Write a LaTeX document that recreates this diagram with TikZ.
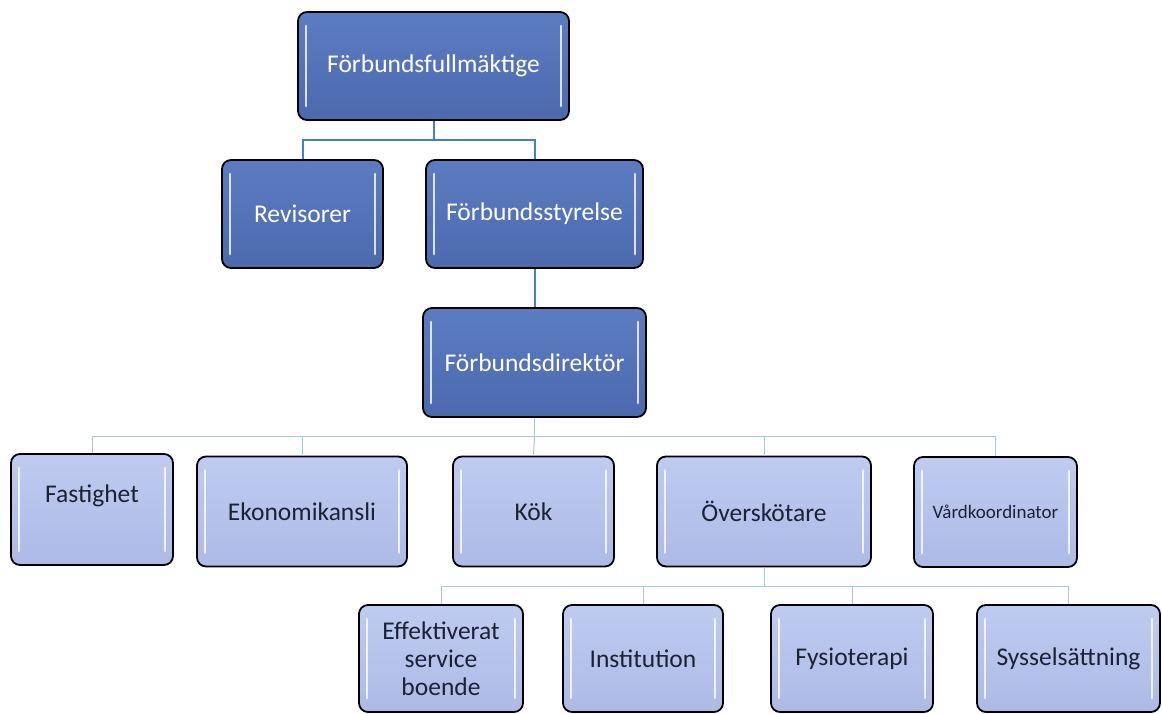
\documentclass[tikz,border=0pt]{standalone}
\usepackage{fontspec}
\setmainfont{Carlito}
\definecolor{darkbox}{HTML}{5372BA}
\definecolor{darkboxtop}{HTML}{5C7CC2}
\definecolor{darkboxbot}{HTML}{4C69AE}
\definecolor{lightbox}{HTML}{B4C1EA}
\definecolor{lightboxtop}{HTML}{BFCBF0}
\definecolor{lightboxbot}{HTML}{ADBAE6}
\definecolor{topline}{HTML}{3F7FD6}
\definecolor{lowline}{HTML}{A9C5EA}
\definecolor{textdark}{HTML}{1C2236}
\tikzset{
  basebox/.style={draw=black, line width=1.8pt, rounded corners=9pt, inner sep=2pt, align=center,
    path picture={
      \draw[white, opacity=0.8, line width=2.8pt, line cap=round]
        ([xshift=8pt,yshift=-14pt]path picture bounding box.north west) --
        ([xshift=8pt,yshift=14pt]path picture bounding box.south west);
      \draw[white, opacity=0.8, line width=2.8pt, line cap=round]
        ([xshift=-8pt,yshift=-14pt]path picture bounding box.north east) --
        ([xshift=-8pt,yshift=14pt]path picture bounding box.south east);
    }},
  darkbox/.style={basebox, top color=darkboxtop, bottom color=darkboxbot, text=white,
    font=\fontsize{25.5}{28}\selectfont, minimum height=108pt},
  lightbox/.style={basebox, top color=lightboxtop, bottom color=lightboxbot, text=textdark,
    font=\fontsize{25.5}{28}\selectfont, minimum height=110pt},
  upperlink/.style={draw=topline, line width=2pt},
  lowerlink/.style={draw=lowline, line width=1pt},
}
\begin{document}
\begin{tikzpicture}[x=1pt,y=-1pt]
\useasboundingbox[fill=white] (0,0) rectangle (1162,713);
% top levels
\node[darkbox, minimum width=271pt] (ff) at (433.5,66) {Förbundsfullmäktige};
\node[darkbox, minimum width=161pt] (rev) at (302.5,214) {Revisorer};
\node[darkbox, minimum width=217pt] (fs) at (534.5,214) {Förbundsstyrelse};
\node[darkbox, minimum width=223pt, minimum height=109pt] (fd) at (534.5,362.5) {Förbundsdirektör};
% middle level
\node[lightbox, minimum width=162pt, minimum height=111pt, text height=16pt, text depth=30pt] (fast) at (92,509.5) {Fastighet};
\node[lightbox, minimum width=210pt] (eko) at (302,511.5) {Ekonomikansli};
\node[lightbox, minimum width=161pt] (kok) at (533.5,511.5) {Kök};
\node[lightbox, minimum width=214pt] (ovs) at (764,511.5) {Överskötare};
\node[lightbox, minimum width=163pt, font=\fontsize{19}{22}\selectfont] (vard) at (995.5,512) {Vårdkoordinator};
% bottom level
\node[lightbox, minimum width=164pt, minimum height=107pt] (eff) at (441,658.5) {Effektiverat\\service\\boende};
\node[lightbox, minimum width=160pt, minimum height=107pt] (inst) at (643,658.5) {Institution};
\node[lightbox, minimum width=162pt, minimum height=107pt] (fys) at (852,658.5) {Fysioterapi};
\node[lightbox, minimum width=183pt, minimum height=107pt] (sys) at (1068.5,658.5) {Sysselsättning};
% connectors
\coordinate (b1) at (433.5,140);
\draw[upperlink] (ff.south) -- (b1) -| (rev.north);
\draw[upperlink] (b1) -| (fs.north);
\draw[upperlink] (fs.south) -- (fd.north);
\coordinate (b2) at (534.5,436.5);
\draw[lowerlink] (fd.south) -- (b2);
\draw[lowerlink] (b2) -| (fast.north);
\draw[lowerlink] (b2) -| (eko.north);
\draw[lowerlink] (b2) -- (kok.north);
\draw[lowerlink] (b2) -| (ovs.north);
\draw[lowerlink] (b2) -| (vard.north);
\coordinate (b3) at (764,586);
\draw[lowerlink] (ovs.south) -- (b3);
\draw[lowerlink] (b3) -| (eff.north);
\draw[lowerlink] (b3) -| (inst.north);
\draw[lowerlink] (b3) -| (fys.north);
\draw[lowerlink] (b3) -| (sys.north);
\end{tikzpicture}
\end{document}
